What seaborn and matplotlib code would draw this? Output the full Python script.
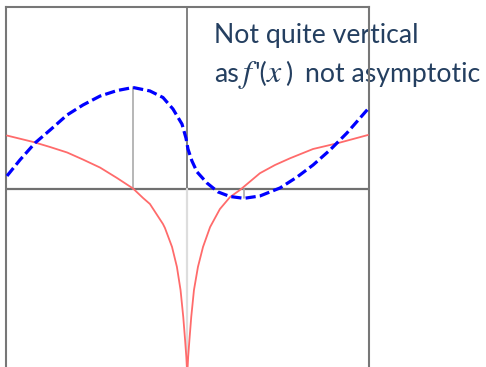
import matplotlib
matplotlib.use("Agg")
import matplotlib.pyplot as plt
import seaborn as sns
import pandas as pd

sns.set_theme(style="white")
plt.rcParams["font.family"] = ["Lato", "DejaVu Sans"]

# f(x): the function (blue, dashed)
f_x = [-0.9945, -0.923, -0.840, -0.757, -0.663, -0.575, -0.481, -0.388, -0.299,
       -0.206, -0.134, -0.079, -0.029, -0.007, 0.004, 0.026, 0.054, 0.109, 0.170,
       0.236, 0.313, 0.401, 0.512, 0.606, 0.694, 0.788, 0.881, 0.997]
f_y = [0.069, 0.157, 0.250, 0.321, 0.404, 0.459, 0.508, 0.538, 0.555,
       0.536, 0.500, 0.437, 0.354, 0.277, 0.217, 0.151, 0.091, 0.030, -0.019,
       -0.044, -0.054, -0.041, 0.003, 0.063, 0.129, 0.212, 0.305, 0.437]

# f'(x): the derivative (red), plunging at x = 0
df_x = [-0.9945, -0.851, -0.757, -0.663, -0.575, -0.481, -0.388, -0.299, -0.244,
        -0.206, -0.134, -0.123, -0.084, -0.057, -0.037, -0.022, -0.012, -0.005,
        0.0, 0.005, 0.012, 0.022, 0.037, 0.059, 0.087, 0.126, 0.180, 0.236,
        0.291, 0.346, 0.401, 0.484, 0.567, 0.694, 0.826, 0.997]
df_y = [0.291, 0.256, 0.228, 0.198, 0.159, 0.115, 0.058, 0.0, -0.052,
        -0.085, -0.195, -0.217, -0.321, -0.431, -0.558, -0.706, -0.832, -0.926,
        -1.02, -0.926, -0.832, -0.706, -0.558, -0.431, -0.321, -0.212, -0.113, -0.047,
        -0.008, 0.038, 0.084, 0.129, 0.166, 0.217, 0.248, 0.294]

# stationary points of f (where f' = 0)
max_x, max_y = -0.299, 0.555
min_x, min_y = 0.313, -0.054

W, H = 486, 367
fig = plt.figure(figsize=(W / 100, H / 100), dpi=100)
ax = fig.add_axes([6 / W, (H - 370.5) / H, 362.5 / W, 364 / H])
ax.set_xlim(-1, 1)
ax.set_ylim(-1, 1)
ax.set_xticks([])
ax.set_yticks([])
for s in ax.spines.values():
    s.set_color("#777777")
    s.set_linewidth(1.5)

# coordinate axes
ax.plot([-1, 1], [0, 0], color="#707070", lw=1.6, zorder=1.5)
ax.plot([0, 0], [0, 1], color="#777777", lw=1.3, zorder=1.5)
ax.plot([0, 0], [-1, 0], color="#dddddd", lw=1.6, zorder=1.5)

# drop lines from the turning points
ax.plot([max_x, max_x], [0, max_y], color="#aaaaaa", lw=1.2, zorder=1.6)
ax.plot([min_x, min_x], [0, min_y], color="#aaaaaa", lw=1.2, zorder=1.6)

df_f = pd.DataFrame({"x": f_x, "y": f_y})
df_d = pd.DataFrame({"x": df_x, "y": df_y})
sns.lineplot(data=df_d, x="x", y="y", ax=ax, color="#ff6b6b", lw=1.3,
             estimator=None, sort=False, zorder=3)
sns.lineplot(data=df_f, x="x", y="y", ax=ax, color="#0000ff", lw=2.3,
             linestyle=(0, (3.2, 1.3)), estimator=None, sort=False, zorder=4)
ax.set_xlabel("")
ax.set_ylabel("")

# annotation, drawn beneath the frame lines
txt_color = "#243f60"
fs = 19.2


def put(px, py, s, size=fs, **kw):
    ax.text(px / W, 1 - py / H, s, transform=fig.transFigure, color=txt_color,
            fontsize=size, ha="left", va="baseline", zorder=1, clip_on=False, **kw)


put(214, 43, "Not quite vertical")
put(214, 82, "as")
put(243, 82, "f", size=23, family="STIXGeneral", style="italic")
put(254, 82, "'(")
put(267, 82, "x", size=23, family="STIXGeneral", style="italic")
put(285, 82, ")")
put(305, 82, "not asymptotic")

fig.savefig("out.png", dpi=100)
